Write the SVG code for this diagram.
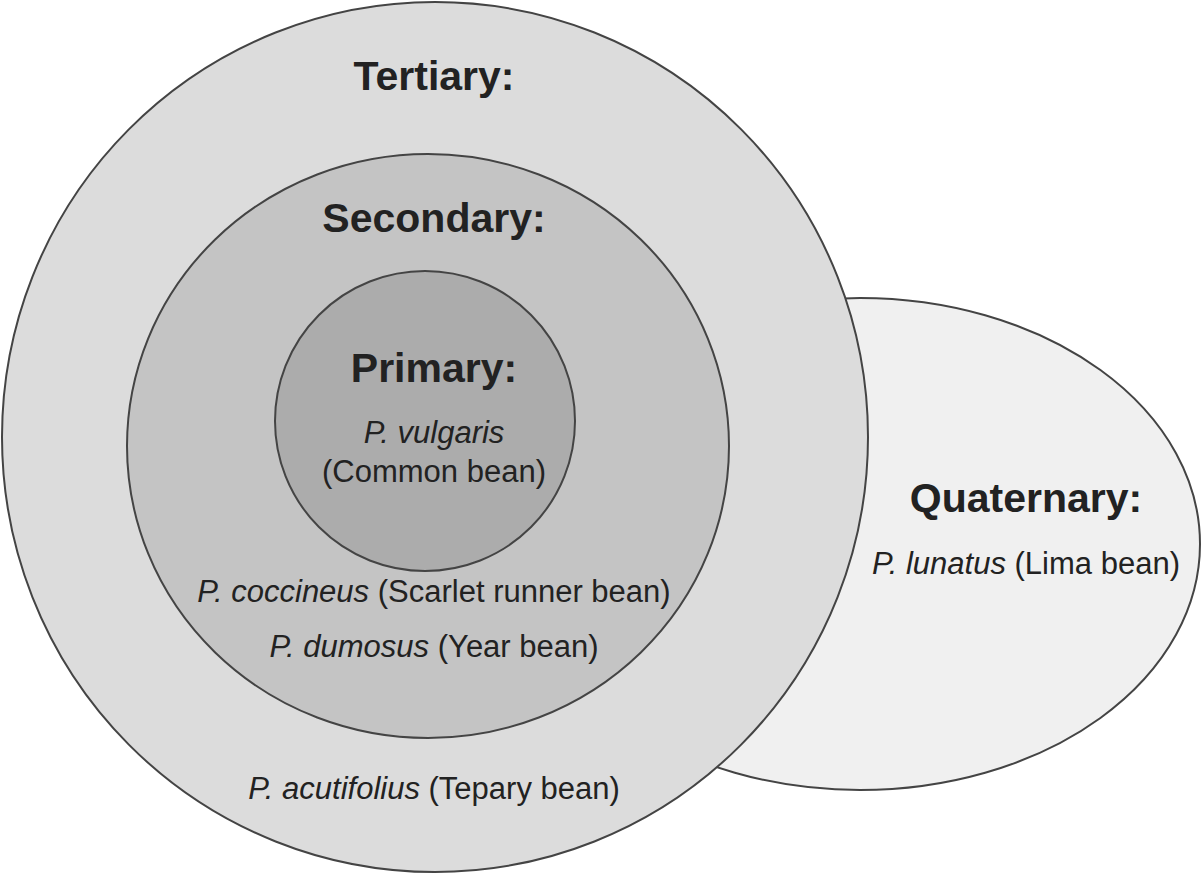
<svg xmlns="http://www.w3.org/2000/svg" width="1204" height="875" viewBox="0 0 1204 875" xml:space="preserve">
<style>
.s{stroke:#444;stroke-width:2}
.h{font-family:"Liberation Sans",Arial,sans-serif;font-weight:bold;font-size:41px;fill:#222;text-anchor:middle}
.t{font-family:"Liberation Sans",Arial,sans-serif;font-size:31px;fill:#222;text-anchor:middle}
.i{font-style:italic}
</style>
<rect width="1204" height="875" fill="#fff"/>
<g id="quaternary"><ellipse class="s" cx="860" cy="544" rx="340" ry="246" fill="#f0f0f0"/>
<text class="h" x="1026" y="512">Quaternary:</text>
<text class="t" x="1026" y="574"><tspan class="i">P. lunatus</tspan> (Lima bean)</text></g>
<g id="tertiary"><ellipse class="s" cx="435" cy="437" rx="433" ry="435" fill="#dcdcdc"/>
<text class="h" x="434" y="90">Tertiary:</text>
<text class="t" x="434" y="799"><tspan class="i">P. acutifolius</tspan>  (Tepary bean)</text></g>
<g id="secondary"><ellipse class="s" cx="428" cy="446" rx="301" ry="292" fill="#c4c4c4"/>
<text class="h" x="434" y="232">Secondary:</text>
<text class="t" x="434" y="602"><tspan class="i">P. coccineus</tspan> (Scarlet runner bean)</text>
<text class="t" x="434" y="657"><tspan class="i">P. dumosus</tspan>  (Year bean)</text></g>
<g id="primary"><circle class="s" cx="425" cy="421" r="150" fill="#acacac"/>
<text class="h" x="434" y="382">Primary:</text>
<text class="t i" x="434" y="443">P. vulgaris</text>
<text class="t" x="434" y="482">(Common bean)</text></g>
<g id="connectors"/>
</svg>
